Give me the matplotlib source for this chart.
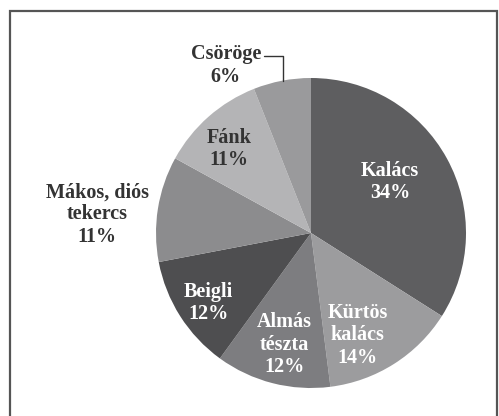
import matplotlib.pyplot as plt
from matplotlib.patches import Rectangle

# adatok
labels = ['Kalács', 'Kürtös\nkalács', 'Almás\ntészta', 'Beigli',
          'Mákos, diós\ntekercs', 'Fánk', 'Csöröge']
values = [34, 14, 12, 12, 11, 11, 6]
colors = ['#5e5e60', '#9c9c9e', '#7d7d80', '#4e4e50', '#8c8c8e', '#b4b4b6', '#9a9a9c']
text_colors = ['white', 'white', 'white', 'white', '#333333', '#333333', '#333333']
# címke helyek (adat koordináták)
label_pos = [(0.51, 0.33), (0.30, -0.66), (-0.17, -0.72), (-0.66, -0.45),
             (-1.38, 0.12), (-0.53, 0.54), (-0.55, 1.08)]

plt.rcParams['font.family'] = ['Liberation Serif', 'DejaVu Serif']

fig = plt.figure(figsize=(4.99, 4.16), dpi=100)
fig.patch.set_facecolor('white')
# keret
fig.add_artist(Rectangle((9.5 / 499, -0.1), (497 - 9.5) / 499, 1.1 - 10.5 / 416,
                         transform=fig.transFigure, fill=False,
                         edgecolor='#555555', linewidth=1.6))

ax = fig.add_axes([(311 - 155) / 499, (416 - 233 - 155) / 416, 310 / 499, 310 / 416])
wedges, _ = ax.pie(values, colors=colors, startangle=90, counterclock=False,
                   radius=1, wedgeprops=dict(linewidth=0))
ax.set_xlim(-1, 1)
ax.set_ylim(-1, 1)

fs = 14.5
for i, lab in enumerate(labels):
    x, y = label_pos[i]
    txt = lab + '\n' + str(values[i]) + '%'
    if lab == 'Csöröge':
        ax.annotate(txt, xy=(-0.18, 0.98), xytext=(x, y),
                    ha='center', va='center', fontsize=fs, fontweight='bold',
                    color=text_colors[i], annotation_clip=False, linespacing=1.15,
                    arrowprops=dict(arrowstyle='-', color='#333333', lw=1.0,
                                    connectionstyle='angle,angleA=0,angleB=90,rad=0',
                                    shrinkA=0, shrinkB=0, relpos=(1.0, 0.72)))
    else:
        ax.text(x, y, txt, ha='center', va='center', fontsize=fs,
                fontweight='bold', color=text_colors[i], linespacing=1.15)

fig.savefig('out.png', dpi=100)
